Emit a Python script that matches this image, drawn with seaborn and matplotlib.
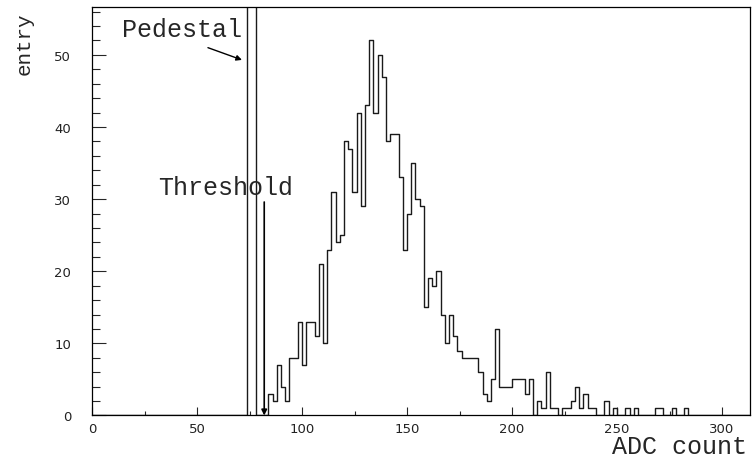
import numpy as np
import pandas as pd
import matplotlib
matplotlib.use('Agg')
import matplotlib.pyplot as plt
import seaborn as sns
from matplotlib.ticker import MultipleLocator

# ADC spectrum, 2-count bins
bin_width = 2
x_max = 313.3
y_max = 56.6

# pedestal peak runs far off the top of the frame
pedestal_bins = [74, 76]
pedestal_counts = [900, 900]

# signal bins start at ADC 84 (one value per 2-count bin)
signal_first_bin = 84
signal_counts = [
    3, 2, 7, 4, 2, 8, 8, 13, 7, 13,        # 84 - 102
    13, 11, 21, 10, 23, 31, 24, 25, 38, 37,  # 104 - 122
    31, 42, 29, 43, 52, 42, 50, 47, 38, 39,  # 124 - 142
    39, 33, 23, 28, 35, 30, 29, 15, 19, 18,  # 144 - 162
    20, 14, 10, 14, 11, 9, 8, 8, 8, 8,      # 164 - 182
    6, 3, 2, 5, 12, 4, 4, 4, 5, 5,          # 184 - 202
    5, 3, 5, 0, 2, 1, 6, 1, 1, 0,           # 204 - 222
    1, 1, 2, 4, 1, 3, 1, 1, 0, 0,           # 224 - 242
    2, 0, 1, 0, 0, 1, 0, 1, 0, 0,           # 244 - 262
    0, 0, 1, 1, 0, 0, 1, 0, 0, 1,           # 264 - 282
]

x_ticks = [0, 50, 100, 150, 200, 250, 300]
y_ticks = [0, 10, 20, 30, 40, 50]
threshold_adc = 82

# build the weighted table for histplot
adc = pedestal_bins + list(signal_first_bin + bin_width * np.arange(len(signal_counts)))
counts = pedestal_counts + signal_counts
df = pd.DataFrame({'adc': np.array(adc) + bin_width / 2, 'entries': counts})
edges = np.arange(0, 316, bin_width).tolist()

sns.set_style('ticks')
plt.rcParams['font.family'] = ['DejaVu Sans']

fig = plt.figure(figsize=(7.53, 4.60), dpi=100)
ax = fig.add_axes([0.1222, 0.0946, 0.8738, 0.8874])

sns.histplot(data=df, x='adc', weights='entries', bins=edges, element='step',
             fill=False, color='#1a1a1a', linewidth=1.0, ax=ax)

ax.set_xlim(0, x_max)
ax.set_ylim(0, y_max)
ax.set_xticks(x_ticks)
ax.set_yticks(y_ticks)
ax.xaxis.set_minor_locator(MultipleLocator(25))
ax.yaxis.set_minor_locator(MultipleLocator(2))
ax.tick_params(axis='x', which='major', direction='in', length=6, width=0.8, pad=5,
               labelsize=9.5, labelcolor='#222222')
ax.tick_params(axis='x', which='minor', direction='in', length=3, width=0.8)
ax.tick_params(axis='y', which='major', direction='in', length=10, width=0.8, pad=15,
               labelsize=9.5, labelcolor='#222222')
ax.tick_params(axis='y', which='minor', direction='in', length=5.5, width=0.8)
for s in ax.spines.values():
    s.set_visible(True)
    s.set_linewidth(0.9)
    s.set_color('black')

mono = 'Liberation Mono'
ax.set_xlabel('ADC count', family=mono, fontsize=18, loc='right')
ax.xaxis.label.set_va('baseline')
ax.xaxis.set_label_coords(0.996, -0.092)
ax.set_ylabel('entry', family=mono, fontsize=15, loc='top')
ax.yaxis.set_label_coords(-0.088, 0.99)

# annotations
ax.text(14.3, 52.6, 'Pedestal', family=mono, fontsize=18, va='baseline')
ax.annotate('', xy=(71.4, 49.3), xytext=(55.2, 51.0),
            arrowprops=dict(arrowstyle='-|>', color='black', lw=1.0,
                            mutation_scale=8, shrinkA=0, shrinkB=0))
ax.text(31.4, 30.7, 'Threshold', family=mono, fontsize=18, va='baseline')
ax.annotate('', xy=(threshold_adc, 0), xytext=(threshold_adc, 29.6),
            arrowprops=dict(arrowstyle='-|>', color='black', lw=1.2,
                            mutation_scale=8, shrinkA=0, shrinkB=0))

plt.savefig('out.png', dpi=100)
